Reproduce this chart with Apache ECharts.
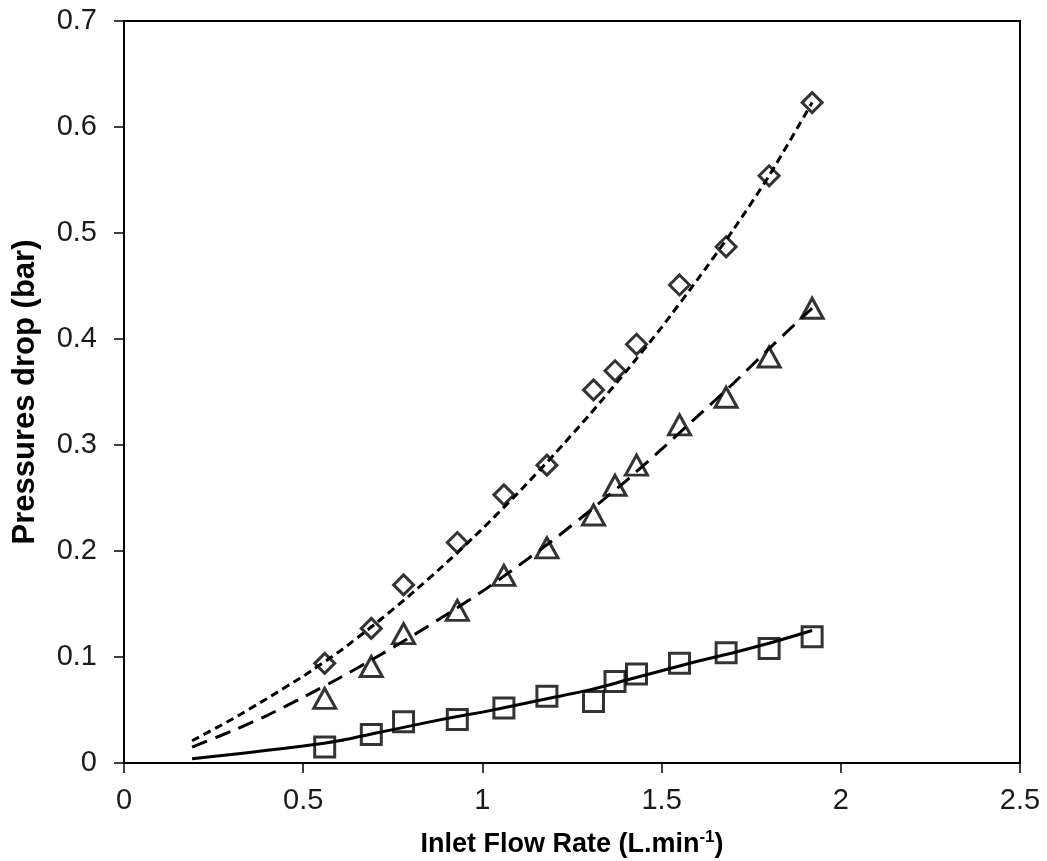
<!DOCTYPE html>
<html>
<head>
<meta charset="utf-8">
<script src="https://cdn.jsdelivr.net/npm/echarts@6/dist/echarts.min.js"></script>
<style>
  html, body { margin: 0; padding: 0; background: #fff; }
  #chart { width: 1047px; height: 861px; }
</style>
</head>
<body>
<div id="chart"></div>
<script>
// measured points
const flowRate = [0.56, 0.69, 0.78, 0.93, 1.06, 1.18, 1.31, 1.37, 1.43, 1.55, 1.68, 1.80, 1.92]
const diamondDrop = [0.094, 0.127, 0.168, 0.208, 0.253, 0.281, 0.352, 0.370, 0.395, 0.451, 0.487, 0.554, 0.623]
const triangleDrop = [0.061, 0.091, 0.122, 0.144, 0.177, 0.203, 0.234, 0.262, 0.281, 0.319, 0.345, 0.383, 0.429]
const squareDrop = [0.015, 0.027, 0.039, 0.041, 0.052, 0.063, 0.058, 0.077, 0.084, 0.094, 0.104, 0.108, 0.119]

// fitted curves
const fitFlow = [0.19, 0.3, 0.4, 0.5, 0.6, 0.7, 0.8, 0.9, 1.0, 1.1, 1.2, 1.3, 1.4, 1.5, 1.6, 1.7, 1.8, 1.92]
const fitDiamond = [0.021, 0.041, 0.061, 0.082, 0.105, 0.131, 0.159, 0.189, 0.221, 0.255, 0.291, 0.329, 0.369, 0.411, 0.456, 0.503, 0.554, 0.623]
const fitTriangle = [0.015, 0.03, 0.045, 0.062, 0.08, 0.099, 0.119, 0.14, 0.162, 0.186, 0.211, 0.238, 0.266, 0.296, 0.327, 0.358, 0.391, 0.429]
const fitSquare = [0.004, 0.008, 0.012, 0.016, 0.021, 0.028, 0.035, 0.042, 0.048, 0.055, 0.062, 0.069, 0.078, 0.087, 0.096, 0.104, 0.113, 0.125]

const pair = (xs, ys) => xs.map((x, i) => [x, ys[i]])

const chart = echarts.init(document.getElementById('chart'))

const axisFont = { fontFamily: 'Liberation Sans', fontSize: 29, color: '#1a1a1a' }

const markerStyle = {
  color: 'rgba(0,0,0,0)',
  borderColor: '#000',
  borderWidth: 3
}

const fitLine = (data, type) => ({
  type: 'line',
  data: data,
  showSymbol: false,
  smooth: 0.2,
  silent: true,
  z: 2,
  lineStyle: { color: '#000', width: 3, type: type }
})

const option = {
  animation: false,
  grid: {
    left: 124,
    right: 27,
    top: 21,
    bottom: 98,
    outerBoundsMode: 'none',
    containLabel: false,
    show: true,
    borderColor: '#000',
    borderWidth: 2
  },
  xAxis: {
    type: 'value',
    min: 0,
    max: 2.5,
    interval: 0.5,
    name: '{t|Inlet Flow Rate (L.min}{s|-1}{t|)}',
    nameLocation: 'middle',
    nameGap: 66,
    nameTextStyle: {
      rich: {
        t: { fontFamily: 'Liberation Sans', fontSize: 27, fontWeight: 'bold', color: '#000', lineHeight: 32 },
        s: { fontFamily: 'Liberation Sans', fontSize: 17, fontWeight: 'bold', color: '#000', verticalAlign: 'top', lineHeight: 32 }
      }
    },
    axisLine: { onZero: false, lineStyle: { color: '#000', width: 2 } },
    axisTick: { length: 10, lineStyle: { color: '#000', width: 1.5 } },
    axisLabel: Object.assign({ margin: 23 }, axisFont),
    splitLine: { show: false }
  },
  yAxis: {
    type: 'value',
    min: 0,
    max: 0.7,
    interval: 0.1,
    name: 'Pressures drop (bar)',
    nameLocation: 'middle',
    nameGap: 83,
    nameTextStyle: { fontFamily: 'Liberation Sans', fontSize: 31, fontWeight: 'bold', color: '#000' },
    axisLine: { onZero: false, lineStyle: { color: '#000', width: 2 } },
    axisTick: { length: 10, lineStyle: { color: '#000', width: 1.5 } },
    axisLabel: Object.assign({ margin: 27 }, axisFont),
    splitLine: { show: false }
  },
  series: [
    fitLine(pair(fitFlow, fitDiamond), [8, 5]),
    fitLine(pair(fitFlow, fitTriangle), [16, 9]),
    fitLine(pair(fitFlow, fitSquare), 'solid'),
    {
      type: 'scatter',
      data: pair(flowRate, diamondDrop),
      symbol: 'diamond',
      symbolSize: 20,
      z: 3,
      itemStyle: markerStyle
    },
    {
      type: 'scatter',
      data: pair(flowRate, triangleDrop),
      symbol: 'triangle',
      symbolSize: [22, 20],
      z: 3,
      itemStyle: markerStyle
    },
    {
      type: 'scatter',
      data: pair(flowRate, squareDrop),
      symbol: 'rect',
      symbolSize: 20,
      z: 3,
      itemStyle: markerStyle
    }
  ]
}

chart.setOption(option)
</script>
</body>
</html>
